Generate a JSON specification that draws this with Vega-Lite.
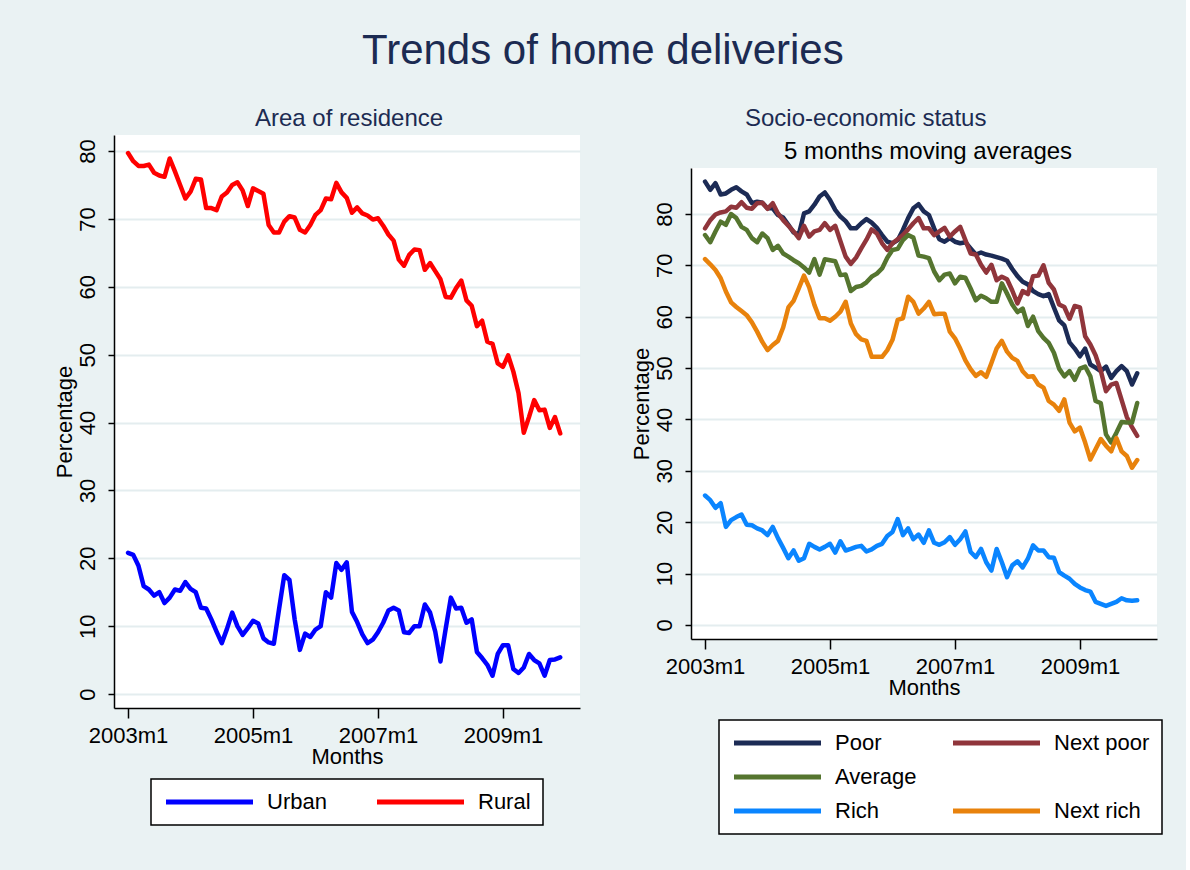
{
  "$schema": "https://vega.github.io/schema/vega-lite/v6.json",
  "background": "#EAF2F3",
  "padding": {"left": 53, "top": 30, "right": 23, "bottom": 38},
  "title": {"text": "Trends of home deliveries", "fontSize": 42, "anchor": "middle", "offset": 34, "dx": -5},
  "config": {
    "font": "Liberation Sans",
    "title": {"font": "Liberation Sans", "fontWeight": "normal", "color": "#1C2B52", "subtitleFont": "Liberation Sans", "subtitleColor": "black"},
    "view": {"stroke": null, "fill": "white"},
    "axis": {"domainColor": "black", "domainWidth": 1.5, "tickColor": "black", "tickWidth": 1.5, "labelFont": "Liberation Sans", "labelFontSize": 22, "labelColor": "black", "titleFont": "Liberation Sans", "titleFontSize": 22, "titleFontWeight": "normal", "titleColor": "black", "gridColor": "#E4EDEF", "gridWidth": 2},
    "axisX": {"grid": false, "tickSize": 10, "labelPadding": 7, "titlePadding": 0},
    "axisY": {"grid": true, "tickSize": 6, "labelAngle": -90, "labelPadding": 9, "titlePadding": 0},
    "legend": {"orient": "none", "title": null, "labelFont": "Liberation Sans", "labelFontSize": 22, "labelColor": "black", "strokeColor": "black", "strokeWidth": 1.5, "fillColor": "white", "padding": 12, "symbolType": "M-1,0H9.875", "symbolSize": 256, "symbolStrokeWidth": 5, "labelOffset": 82, "columnPadding": 40, "rowPadding": 12}
  },
  "data": {"values": [
    {"m":0,"Urban":20.8,"Rural":79.7,"Poor":86.3,"Next poor":77.2,"Average":75.9,"Rich":25.2,"Next rich":71.2},
    {"m":1,"Urban":20.5,"Rural":78.5,"Poor":84.7,"Next poor":78.8,"Average":74.5,"Rich":24.3,"Next rich":70.2},
    {"m":2,"Urban":18.9,"Rural":77.8,"Poor":86.0,"Next poor":79.9,"Average":76.6,"Rich":22.8,"Next rich":69.1},
    {"m":3,"Urban":15.9,"Rural":77.8,"Poor":83.8,"Next poor":80.3,"Average":78.5,"Rich":23.7,"Next rich":67.5},
    {"m":4,"Urban":15.4,"Rural":78.0,"Poor":84.0,"Next poor":80.5,"Average":77.9,"Rich":19.1,"Next rich":64.9},
    {"m":5,"Urban":14.5,"Rural":76.8,"Poor":84.7,"Next poor":81.4,"Average":80.0,"Rich":20.4,"Next rich":62.8},
    {"m":6,"Urban":15.0,"Rural":76.4,"Poor":85.2,"Next poor":81.2,"Average":79.2,"Rich":21.0,"Next rich":61.9},
    {"m":7,"Urban":13.4,"Rural":76.2,"Poor":84.4,"Next poor":82.3,"Average":77.5,"Rich":21.5,"Next rich":61.1},
    {"m":8,"Urban":14.2,"Rural":78.9,"Poor":83.8,"Next poor":81.2,"Average":76.9,"Rich":19.5,"Next rich":60.3},
    {"m":9,"Urban":15.4,"Rural":77.0,"Poor":82.1,"Next poor":81.0,"Average":75.3,"Rich":19.4,"Next rich":58.9},
    {"m":10,"Urban":15.2,"Rural":75.0,"Poor":82.4,"Next poor":82.1,"Average":74.5,"Rich":18.8,"Next rich":57.1},
    {"m":11,"Urban":16.5,"Rural":73.0,"Poor":82.2,"Next poor":82.2,"Average":76.2,"Rich":18.4,"Next rich":55.1},
    {"m":12,"Urban":15.5,"Rural":74.0,"Poor":81.1,"Next poor":81.0,"Average":75.3,"Rich":17.5,"Next rich":53.5},
    {"m":13,"Urban":15.0,"Rural":75.9,"Poor":81.1,"Next poor":82.1,"Average":73.0,"Rich":19.1,"Next rich":54.5},
    {"m":14,"Urban":12.7,"Rural":75.8,"Poor":79.8,"Next poor":80.1,"Average":73.8,"Rich":16.9,"Next rich":55.3},
    {"m":15,"Urban":12.6,"Rural":71.6,"Poor":79.3,"Next poor":78.8,"Average":72.3,"Rich":15.0,"Next rich":57.9},
    {"m":16,"Urban":11.0,"Rural":71.6,"Poor":77.9,"Next poor":77.7,"Average":71.7,"Rich":13.0,"Next rich":61.8},
    {"m":17,"Urban":9.2,"Rural":71.3,"Poor":76.4,"Next poor":76.6,"Average":71.0,"Rich":14.5,"Next rich":63.1},
    {"m":18,"Urban":7.5,"Rural":73.3,"Poor":76.0,"Next poor":75.3,"Average":70.4,"Rich":12.5,"Next rich":65.5},
    {"m":19,"Urban":9.6,"Rural":73.9,"Poor":80.1,"Next poor":77.7,"Average":69.6,"Rich":13.0,"Next rich":68.0},
    {"m":20,"Urban":12.0,"Rural":75.0,"Poor":80.5,"Next poor":75.6,"Average":68.6,"Rich":15.8,"Next rich":65.7},
    {"m":21,"Urban":10.0,"Rural":75.4,"Poor":81.8,"Next poor":76.6,"Average":71.2,"Rich":15.2,"Next rich":62.3},
    {"m":22,"Urban":8.7,"Rural":74.2,"Poor":83.4,"Next poor":76.9,"Average":68.2,"Rich":14.7,"Next rich":59.7},
    {"m":23,"Urban":9.7,"Rural":71.9,"Poor":84.2,"Next poor":78.2,"Average":71.2,"Rich":15.2,"Next rich":59.7},
    {"m":24,"Urban":10.8,"Rural":74.5,"Poor":82.7,"Next poor":76.9,"Average":71.0,"Rich":15.8,"Next rich":59.2},
    {"m":25,"Urban":10.4,"Rural":74.1,"Poor":80.8,"Next poor":77.7,"Average":70.8,"Rich":14.1,"Next rich":60.0},
    {"m":26,"Urban":8.2,"Rural":73.7,"Poor":79.5,"Next poor":74.7,"Average":68.1,"Rich":16.3,"Next rich":61.0},
    {"m":27,"Urban":7.6,"Rural":69.1,"Poor":78.6,"Next poor":71.7,"Average":68.2,"Rich":14.5,"Next rich":62.9},
    {"m":28,"Urban":7.4,"Rural":68.0,"Poor":77.2,"Next poor":70.3,"Average":65.0,"Rich":14.8,"Next rich":58.7},
    {"m":29,"Urban":12.5,"Rural":68.0,"Poor":77.2,"Next poor":71.5,"Average":65.8,"Rich":15.2,"Next rich":56.6},
    {"m":30,"Urban":17.5,"Rural":69.6,"Poor":78.2,"Next poor":73.3,"Average":66.0,"Rich":15.4,"Next rich":55.6},
    {"m":31,"Urban":16.8,"Rural":70.4,"Poor":79.0,"Next poor":75.0,"Average":66.7,"Rich":14.3,"Next rich":55.3},
    {"m":32,"Urban":11.0,"Rural":70.2,"Poor":78.3,"Next poor":77.0,"Average":67.8,"Rich":14.7,"Next rich":52.2},
    {"m":33,"Urban":6.5,"Rural":68.4,"Poor":77.3,"Next poor":76.2,"Average":68.4,"Rich":15.4,"Next rich":52.2},
    {"m":34,"Urban":8.9,"Rural":68.0,"Poor":75.9,"Next poor":74.3,"Average":69.4,"Rich":15.8,"Next rich":52.2},
    {"m":35,"Urban":8.4,"Rural":69.1,"Poor":74.6,"Next poor":73.0,"Average":71.5,"Rich":17.3,"Next rich":53.5},
    {"m":36,"Urban":9.5,"Rural":70.6,"Poor":74.3,"Next poor":74.3,"Average":73.0,"Rich":18.1,"Next rich":55.5},
    {"m":37,"Urban":10.0,"Rural":71.3,"Poor":74.9,"Next poor":75.1,"Average":73.2,"Rich":20.6,"Next rich":59.4},
    {"m":38,"Urban":15.0,"Rural":73.0,"Poor":76.9,"Next poor":75.9,"Average":74.9,"Rich":17.5,"Next rich":59.7},
    {"m":39,"Urban":14.2,"Rural":72.9,"Poor":79.2,"Next poor":77.0,"Average":75.9,"Rich":18.8,"Next rich":63.9},
    {"m":40,"Urban":19.3,"Rural":75.3,"Poor":81.1,"Next poor":78.2,"Average":75.4,"Rich":16.7,"Next rich":62.9},
    {"m":41,"Urban":18.3,"Rural":73.9,"Poor":81.9,"Next poor":79.2,"Average":71.9,"Rich":17.6,"Next rich":60.6},
    {"m":42,"Urban":19.4,"Rural":73.1,"Poor":80.5,"Next poor":77.2,"Average":71.7,"Rich":16.0,"Next rich":61.6},
    {"m":43,"Urban":12.1,"Rural":70.9,"Poor":79.8,"Next poor":77.2,"Average":71.4,"Rich":18.4,"Next rich":62.9},
    {"m":44,"Urban":10.6,"Rural":71.7,"Poor":77.2,"Next poor":75.9,"Average":68.8,"Rich":16.0,"Next rich":60.5},
    {"m":45,"Urban":8.8,"Rural":70.8,"Poor":75.1,"Next poor":76.6,"Average":67.1,"Rich":15.6,"Next rich":60.6},
    {"m":46,"Urban":7.5,"Rural":70.5,"Poor":74.6,"Next poor":77.3,"Average":68.2,"Rich":16.1,"Next rich":60.6},
    {"m":47,"Urban":8.0,"Rural":69.9,"Poor":75.3,"Next poor":75.6,"Average":68.4,"Rich":17.1,"Next rich":57.1},
    {"m":48,"Urban":9.1,"Rural":70.1,"Poor":74.6,"Next poor":76.6,"Average":66.5,"Rich":15.6,"Next rich":55.8},
    {"m":49,"Urban":10.5,"Rural":69.0,"Poor":74.3,"Next poor":77.5,"Average":67.8,"Rich":16.7,"Next rich":53.8},
    {"m":50,"Urban":12.3,"Rural":67.7,"Poor":74.5,"Next poor":74.9,"Average":67.6,"Rich":18.2,"Next rich":51.5},
    {"m":51,"Urban":12.7,"Rural":66.8,"Poor":73.3,"Next poor":72.3,"Average":65.5,"Rich":14.2,"Next rich":49.8},
    {"m":52,"Urban":12.3,"Rural":64.0,"Poor":72.1,"Next poor":72.1,"Average":63.2,"Rich":13.2,"Next rich":48.5},
    {"m":53,"Urban":9.1,"Rural":63.1,"Poor":72.5,"Next poor":70.1,"Average":64.1,"Rich":14.8,"Next rich":49.2},
    {"m":54,"Urban":9.0,"Rural":64.7,"Poor":72.1,"Next poor":68.6,"Average":63.6,"Rich":12.2,"Next rich":48.3},
    {"m":55,"Urban":10.0,"Rural":65.5,"Poor":71.9,"Next poor":70.1,"Average":62.9,"Rich":10.6,"Next rich":51.0},
    {"m":56,"Urban":10.0,"Rural":65.4,"Poor":71.6,"Next poor":67.1,"Average":62.9,"Rich":14.8,"Next rich":53.8},
    {"m":57,"Urban":13.2,"Rural":62.5,"Poor":71.3,"Next poor":67.8,"Average":66.5,"Rich":12.2,"Next rich":55.3},
    {"m":58,"Urban":12.0,"Rural":63.5,"Poor":70.9,"Next poor":67.3,"Average":64.5,"Rich":9.3,"Next rich":53.2},
    {"m":59,"Urban":9.2,"Rural":62.3,"Poor":69.3,"Next poor":65.1,"Average":62.4,"Rich":11.6,"Next rich":52.0},
    {"m":60,"Urban":4.8,"Rural":61.1,"Poor":67.9,"Next poor":62.6,"Average":60.9,"Rich":12.4,"Next rich":51.4},
    {"m":61,"Urban":9.6,"Rural":58.5,"Poor":66.8,"Next poor":65.0,"Average":61.6,"Rich":11.2,"Next rich":49.4},
    {"m":62,"Urban":14.2,"Rural":58.4,"Poor":66.3,"Next poor":64.4,"Average":58.2,"Rich":12.9,"Next rich":48.3},
    {"m":63,"Urban":12.6,"Rural":59.8,"Poor":65.0,"Next poor":67.9,"Average":60.0,"Rich":15.5,"Next rich":48.4},
    {"m":64,"Urban":12.7,"Rural":60.9,"Poor":64.4,"Next poor":68.0,"Average":57.2,"Rich":14.5,"Next rich":46.8},
    {"m":65,"Urban":10.5,"Rural":58.0,"Poor":64.0,"Next poor":70.0,"Average":55.9,"Rich":14.5,"Next rich":46.2},
    {"m":66,"Urban":11.0,"Rural":57.2,"Poor":64.4,"Next poor":66.6,"Average":54.9,"Rich":13.2,"Next rich":43.6},
    {"m":67,"Urban":6.2,"Rural":54.2,"Poor":61.8,"Next poor":65.3,"Average":53.0,"Rich":13.1,"Next rich":42.9},
    {"m":68,"Urban":5.3,"Rural":55.0,"Poor":59.3,"Next poor":62.4,"Average":49.9,"Rich":10.3,"Next rich":41.7},
    {"m":69,"Urban":4.3,"Rural":51.9,"Poor":58.3,"Next poor":61.9,"Average":48.4,"Rich":9.6,"Next rich":43.9},
    {"m":70,"Urban":2.7,"Rural":51.6,"Poor":55.0,"Next poor":59.6,"Average":49.4,"Rich":9.0,"Next rich":39.4},
    {"m":71,"Urban":5.9,"Rural":48.7,"Poor":53.8,"Next poor":62.1,"Average":47.7,"Rich":8.0,"Next rich":37.7},
    {"m":72,"Urban":7.2,"Rural":48.2,"Poor":52.3,"Next poor":61.8,"Average":49.9,"Rich":7.3,"Next rich":38.4},
    {"m":73,"Urban":7.2,"Rural":49.9,"Poor":53.8,"Next poor":56.2,"Average":50.3,"Rich":6.8,"Next rich":35.5},
    {"m":74,"Urban":3.7,"Rural":47.5,"Poor":50.7,"Next poor":54.6,"Average":48.4,"Rich":6.5,"Next rich":32.2},
    {"m":75,"Urban":3.1,"Rural":44.3,"Poor":50.1,"Next poor":52.5,"Average":43.6,"Rich":4.5,"Next rich":34.2},
    {"m":76,"Urban":3.9,"Rural":38.5,"Poor":49.4,"Next poor":49.5,"Average":43.2,"Rich":4.1,"Next rich":36.2},
    {"m":77,"Urban":5.9,"Rural":40.8,"Poor":50.3,"Next poor":45.5,"Average":37.1,"Rich":3.7,"Next rich":34.9},
    {"m":78,"Urban":5.0,"Rural":43.3,"Poor":48.1,"Next poor":46.8,"Average":35.5,"Rich":4.1,"Next rich":33.8},
    {"m":79,"Urban":4.5,"Rural":41.8,"Poor":49.4,"Next poor":47.1,"Average":37.4,"Rich":4.5,"Next rich":36.4},
    {"m":80,"Urban":2.7,"Rural":41.9,"Poor":50.4,"Next poor":43.8,"Average":39.5,"Rich":5.2,"Next rich":33.8},
    {"m":81,"Urban":5.0,"Rural":39.2,"Poor":49.4,"Next poor":40.5,"Average":39.4,"Rich":4.8,"Next rich":32.9},
    {"m":82,"Urban":5.1,"Rural":40.8,"Poor":46.8,"Next poor":38.5,"Average":39.4,"Rich":4.7,"Next rich":30.6},
    {"m":83,"Urban":5.4,"Rural":38.4,"Poor":49.0,"Next poor":36.8,"Average":43.2,"Rich":4.8,"Next rich":32.1}
  ]},
  "spacing": 50,
  "resolve": {"scale": {"color": "independent"}, "legend": {"color": "independent"}},
  "hconcat": [
    {
      "width": 466,
      "height": 573,
      "title": {"text": "Area of residence", "fontSize": 24, "anchor": "start", "frame": "group", "dx": 141, "offset": 4},
      "transform": [{"fold": ["Urban", "Rural"], "as": ["group", "pct"]}],
      "mark": {"type": "line", "strokeWidth": 4.5, "strokeJoin": "round", "strokeCap": "round"},
      "encoding": {
        "x": {"field": "m", "type": "quantitative", "scale": {"domain": [-2.7, 86.8], "nice": false, "zero": false}, "axis": {"values": [0, 24, 48, 72], "labelExpr": "(2003 + datum.value / 12) + 'm1'", "title": "Months"}},
        "y": {"field": "pct", "type": "quantitative", "scale": {"domain": [-2.06, 82.36], "nice": false, "zero": false}, "axis": {"values": [0, 10, 20, 30, 40, 50, 60, 70, 80], "title": "Percentage"}},
        "color": {"field": "group", "type": "nominal", "scale": {"domain": ["Urban", "Rural"], "range": ["#0000FF", "#FF0000"]}, "legend": {"columns": 2, "direction": "horizontal", "legendX": 37, "legendY": 644}}
      }
    },
    {
      "title": {"text": "Socio-economic status", "fontSize": 24, "anchor": "start", "frame": "group", "dx": 54, "offset": 4},
      "spacing": 0,
      "vconcat": [
        {
          "width": 466,
          "height": 33,
          "view": {"fill": null, "stroke": null},
          "data": {"values": [{"label": "5 months moving averages"}]},
          "mark": {"type": "text", "fontSize": 24, "font": "Liberation Sans", "color": "black", "align": "center", "baseline": "middle", "dx": 4},
          "encoding": {"text": {"field": "label"}}
        },
        {
          "width": 466,
          "height": 471,
          "transform": [{"fold": ["Poor", "Next poor", "Average", "Rich", "Next rich"], "as": ["group", "pct"]}],
          "mark": {"type": "line", "strokeWidth": 4.5, "strokeJoin": "round", "strokeCap": "round"},
          "encoding": {
            "x": {"field": "m", "type": "quantitative", "scale": {"domain": [-2.7, 86.8], "nice": false, "zero": false}, "axis": {"values": [0, 24, 48, 72], "labelExpr": "(2003 + datum.value / 12) + 'm1'", "title": "Months"}},
            "y": {"field": "pct", "type": "quantitative", "scale": {"domain": [-2.73, 88.95], "nice": false, "zero": false}, "axis": {"values": [0, 10, 20, 30, 40, 50, 60, 70, 80], "title": "Percentage"}},
            "color": {"field": "group", "type": "nominal", "scale": {"domain": ["Poor", "Average", "Rich", "Next poor", " ", "Next rich"], "range": ["#1C2B55", "#55752F", "#0A85FF", "#90353B", "rgba(0,0,0,0)", "#E8820C"]}, "legend": {"columns": 2, "columnPadding": 26, "legendX": 28, "legendY": 585}}
          }
        }
      ]
    }
  ]
}
